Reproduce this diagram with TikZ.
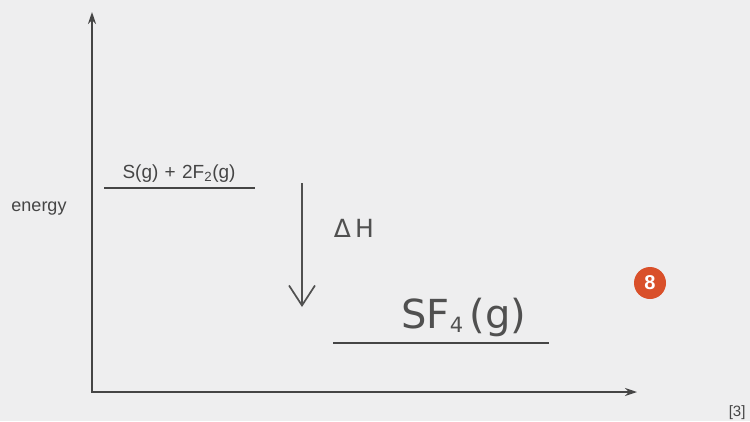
\documentclass[tikz,border=0pt]{standalone}
\usepackage{fontspec}
\setmainfont{Liberation Sans}
\newfontfamily\handfont{DejaVu Sans}
\usepackage{xcolor}
\definecolor{paper}{HTML}{EEEEEF}
\definecolor{ink}{HTML}{454545}
\definecolor{pencil}{HTML}{505050}
\definecolor{badge}{HTML}{D9502A}
\usetikzlibrary{arrows.meta,positioning}
\tikzset{
  every picture/.style={x=1pt, y=-1pt, line width=1.6pt},
  axis/.style={draw=ink, line width=1.6pt, {Stealth[length=12pt,width=8pt]}-{Stealth[length=12pt,width=8pt]}},
  level/.style={draw=ink, line width=1.9pt},
  printed/.style={text=ink, font=\fontsize{19}{21}\selectfont, inner sep=0pt},
  hand/.style={text=pencil, font=\handfont, inner sep=0pt},
  drop/.style={draw=pencil, line width=1.7pt, -{Straight Barb[length=20pt,width=26pt,line width=1.7pt]}},
  marks/.style={circle, fill=badge, text=white, font=\fontsize{20}{22}\selectfont\bfseries, inner sep=0pt, minimum size=32pt},
}
\begin{document}
\begin{tikzpicture}
  \fill[paper] (0,0) rectangle (750,421);
  \useasboundingbox (0,0) rectangle (750,421);
  % axes
  \coordinate (origin) at (92,392);
  \coordinate (ytop) at (92,12);
  \coordinate (xend) at (637,392);
  \draw[axis] (ytop) -- (origin) -- (xend);
  \node[printed, font=\fontsize{18}{20}\selectfont] (ylab) at (39,209) {energy};
  % reactants
  \coordinate (hiL) at (104,188);
  \coordinate (hiR) at (255,188);
  \draw[level] (hiL) -- (hiR);
  \node[printed, anchor=south] (react) at (179,183) {S(g)\,\,+\,\,2F\textsubscript{2}(g)};
  % enthalpy change
  \coordinate (dhtop) at (302,183);
  \coordinate (dhbot) at (302,307);
  \draw[drop] (dhtop) -- (dhbot);
  \node[hand, font=\handfont\fontsize{25}{27}\selectfont] (dH) at (354,228) {Δ\,H};
  % product
  \coordinate (loL) at (333,343);
  \coordinate (loR) at (549,343);
  \draw[level] (loL) -- (loR);
  \node[hand, font=\handfont\fontsize{40}{42}\selectfont, anchor=south] (prod) at (464,338) {SF\raisebox{-4pt}{\fontsize{21}{23}\selectfont 4}\,(g)};
  % margin marks
  \node[marks] (eight) at (650,283) {8};
  \node[printed, font=\fontsize{15}{17}\selectfont, anchor=north west] (total) at (728,405) {[3]};
\end{tikzpicture}
\end{document}
